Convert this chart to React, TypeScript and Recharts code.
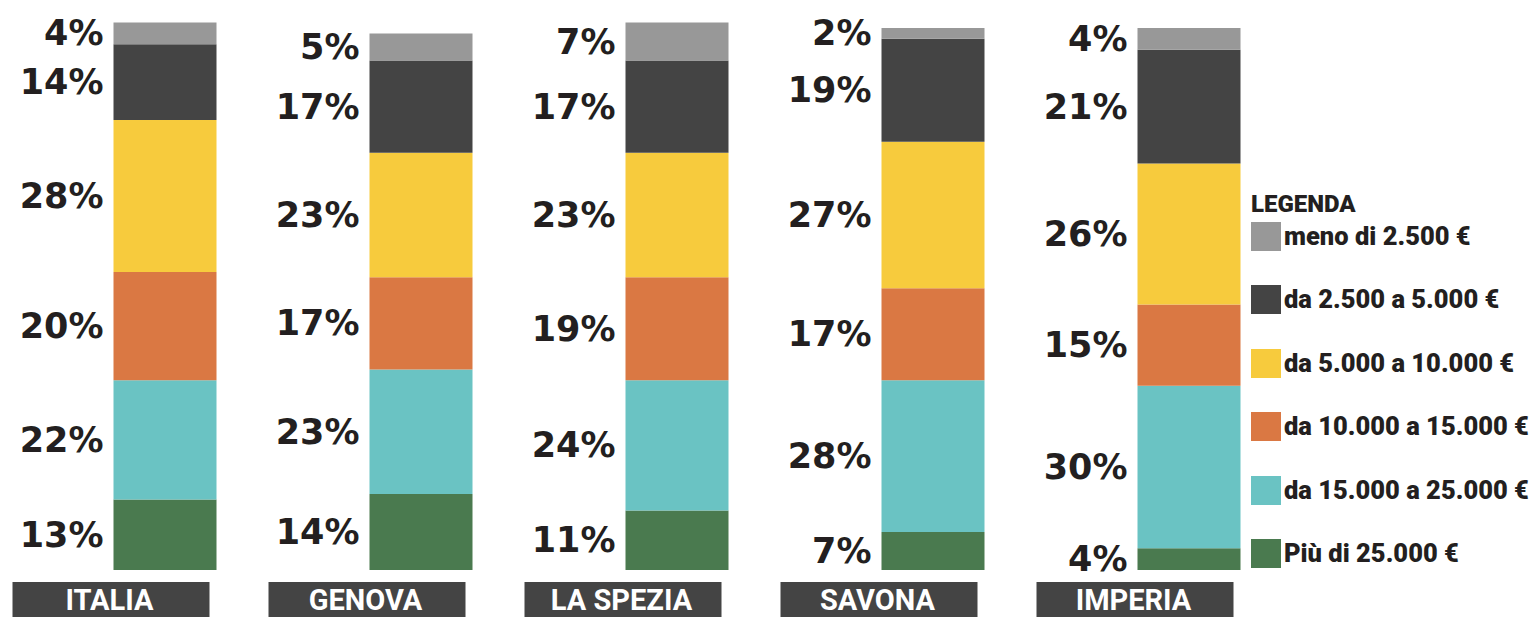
import { Bar, BarChart, LabelList, Legend, XAxis, YAxis } from 'recharts';

const cities = ['ITALIA', 'GENOVA', 'LA SPEZIA', 'SAVONA', 'IMPERIA'];

// shares per income band, bottom of the stack first
const piu25000 = [13, 14, 11, 7, 4];
const da15000a25000 = [22, 23, 24, 28, 30];
const da10000a15000 = [20, 17, 19, 17, 15];
const da5000a10000 = [28, 23, 23, 27, 26];
const da2500a5000 = [14, 17, 17, 19, 21];
const meno2500 = [4, 5, 7, 2, 4];

const series = [
  { key: 'piu25', name: 'Più di 25.000 €', color: '#4a7a4f', values: piu25000 },
  { key: 'd15', name: 'da 15.000 a 25.000 €', color: '#6ac3c3', values: da15000a25000 },
  { key: 'd10', name: 'da 10.000 a 15.000 €', color: '#da7843', values: da10000a15000 },
  { key: 'd5', name: 'da 5.000 a 10.000 €', color: '#f7cb3d', values: da5000a10000 },
  { key: 'd25', name: 'da 2.500 a 5.000 €', color: '#444444', values: da2500a5000 },
  { key: 'meno', name: 'meno di 2.500 €', color: '#989898', values: meno2500 },
];

const data = cities.map((city, i) => {
  const row: Record<string, string | number> = { city };
  series.forEach((s) => {
    row[s.key] = s.values[i];
  });
  return row;
});

const INK = '#231f20';
const PCT_FONT = '"DejaVu Sans", sans-serif';
const LABEL_FONT = 'Roboto, sans-serif';

const PctLabel = (props: any) => {
  const { x, y, height, value } = props;
  return (
    <text
      x={x - 10}
      y={y + height / 2}
      textAnchor="end"
      dominantBaseline="central"
      fill={INK}
      fontFamily={PCT_FONT}
      fontWeight={700}
      fontSize={35}
    >
      {value}%
    </text>
  );
};

const CityTick = (props: any) => {
  const { x, y, payload } = props;
  return (
    <g>
      <rect x={x - 152} y={y} width={197} height={40} fill="#444444" />
      <text
        x={x - 55}
        y={y + 18}
        textAnchor="middle"
        dominantBaseline="central"
        fill="#ffffff"
        fontFamily={LABEL_FONT}
        fontWeight={700}
        fontSize={29}
      >
        {payload.value}
      </text>
    </g>
  );
};

// legend reads top to bottom like the stack, so walk the series backwards
const LegendBox = () => {
  const items = [...series].reverse();
  return (
    <div style={{ fontFamily: LABEL_FONT, fontWeight: 900, color: INK }}>
      <div style={{ fontSize: 24, lineHeight: '28px', height: 28, marginBottom: 4 }}>LEGENDA</div>
      {items.map((it) => (
        <div
          key={it.key}
          style={{ display: 'flex', alignItems: 'center', height: 29, marginBottom: 34.4 }}
        >
          <span style={{ width: 30, height: 29, background: it.color, marginRight: 3 }} />
          <span style={{ fontSize: 25.5, lineHeight: '29px', whiteSpace: 'nowrap' }}>{it.name}</span>
        </div>
      ))}
    </div>
  );
};

export default function App() {
  return (
    <div style={{ width: 1537, height: 617, background: '#ffffff', overflow: 'hidden' }}>
      <style>{'body{margin:0}'}</style>
      <BarChart
        width={1537}
        height={617}
        data={data}
        margin={{ top: 6.3, right: 220.5, bottom: 0, left: 36.5 }}
      >
        <XAxis
          dataKey="city"
          axisLine={false}
          tickLine={false}
          tickSize={0}
          tickMargin={12}
          height={47}
          interval={0}
          tick={<CityTick />}
        />
        <YAxis hide type="number" domain={[0, 104]} />
        <Legend
          layout="horizontal"
          align="center"
          verticalAlign="middle"
          content={<LegendBox />}
          wrapperStyle={{ position: 'absolute', left: 1251, top: 190, width: 286 }}
        />
        {series.map((s) => (
          <Bar
            key={s.key}
            dataKey={s.key}
            name={s.name}
            stackId="a"
            fill={s.color}
            barSize={103}
            isAnimationActive={false}
          >
            <LabelList dataKey={s.key} content={<PctLabel />} />
          </Bar>
        ))}
      </BarChart>
    </div>
  );
}
